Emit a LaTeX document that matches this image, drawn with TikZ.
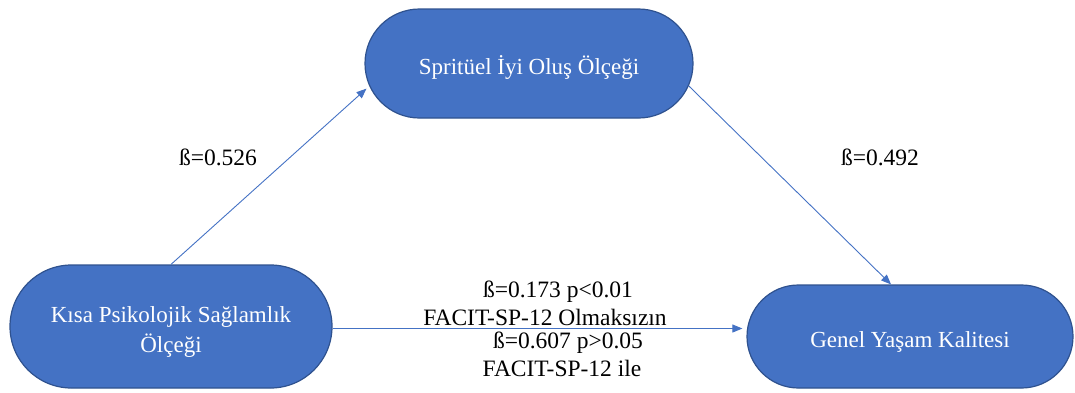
\documentclass[tikz,border=0pt]{standalone}
\usepackage{fontspec}
\setmainfont{Liberation Serif}
\usetikzlibrary{shapes.misc,arrows.meta}
\definecolor{offblue}{HTML}{4472C4}
\definecolor{offedge}{HTML}{2F528F}
\newcommand{\pilltext}[1]{\raisebox{0pt}[\dimexpr\height+9pt\relax]{\begin{tabular}{@{}c@{}}#1\end{tabular}}}
\tikzset{
  pill/.style={rounded rectangle, fill=offblue, draw=offedge, line width=1.2pt,
    text=white, inner sep=0pt, font=\fontsize{23}{30}\selectfont},
  arr/.style={draw=offblue, line width=0.9pt, -{Triangle[length=10pt,width=8pt]}},
  lbl/.style={font=\fontsize{23.5}{25.5}\selectfont, align=center, inner sep=0pt}
}
\begin{document}
\begin{tikzpicture}[x=1pt,y=-1pt]
\useasboundingbox (0,0) rectangle (1075,392);
\node[pill, minimum width=328pt, minimum height=109pt] (top) at (529,63.5) {\pilltext{Spritüel İyi Oluş Ölçeği}};
\node[pill, minimum width=322pt, minimum height=123pt] (left) at (171,326.5) {\pilltext{Kısa Psikolojik Sağlamlık\\Ölçeği}};
\node[pill, minimum width=326pt, minimum height=103pt] (right) at (910,336.5) {\pilltext{Genel Yaşam Kalitesi}};
\draw[arr] (left.north) -- ([shift={(-4pt,0pt)}]top.189);
\draw[arr] (top.352) -- (right.110);
\draw[arr] ([yshift=-2pt]left.east) -- ([shift={(-4pt,-2pt)}]left.east -| right.west) ;
\node[lbl] (b1) at (218,157) {ß=0.526};
\node[lbl] (b2) at (880,157) {ß=0.492};
\node[lbl] (m1) at (558,292) {ß=0.173 p<0.01};
\node[lbl] (m2) at (545,317) {FACIT-SP-12 Olmaksızın};
\node[lbl] (m3) at (568,343) {ß=0.607 p>0.05};
\node[lbl] (m4) at (562,368) {FACIT-SP-12 ile};
\end{tikzpicture}
\end{document}
